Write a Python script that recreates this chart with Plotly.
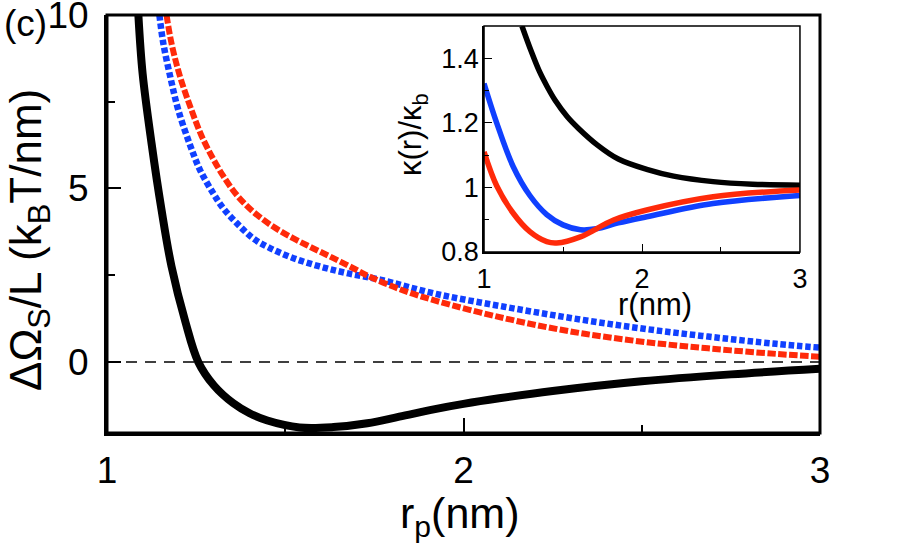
import plotly.graph_objects as go

# ---- main panel data: Delta Omega_s / L vs r_p ----
black_x = [1.088, 1.1, 1.125, 1.153, 1.181, 1.22, 1.256, 1.30, 1.354, 1.40, 1.45, 1.54,
           1.635, 1.73, 1.82, 1.92, 2.0, 2.1, 2.25, 2.5, 2.75, 3.0]
black_y = [10.0, 8.3, 6.3, 4.38, 2.75, 1.15, 0.0, -0.68, -1.19, -1.48, -1.69, -1.89,
           -1.88, -1.77, -1.58, -1.36, -1.21, -1.05, -0.84, -0.56, -0.36, -0.2]

blue_x = [1.147, 1.158, 1.179, 1.2, 1.233, 1.261, 1.298, 1.326, 1.364, 1.41, 1.457,
          1.523, 1.597, 1.672, 1.766, 1.923, 2.114, 2.304, 2.495, 2.686, 2.877, 3.0]
blue_y = [10.0, 9.18, 8.15, 7.26, 6.25, 5.53, 4.86, 4.43, 4.0, 3.56, 3.28,
          2.99, 2.75, 2.56, 2.37, 1.96, 1.59, 1.26, 0.97, 0.73, 0.52, 0.41]

red_x = [1.167, 1.181, 1.205, 1.237, 1.266, 1.298, 1.326, 1.364, 1.41, 1.466, 1.523,
         1.579, 1.635, 1.691, 1.732, 1.82, 1.923, 2.114, 2.304, 2.495, 2.686, 2.877, 3.0]
red_y = [10.0, 9.18, 8.22, 7.26, 6.5, 5.85, 5.36, 4.81, 4.33, 3.90, 3.56,
         3.27, 2.99, 2.70, 2.48, 2.1, 1.76, 1.26, 0.87, 0.59, 0.39, 0.23, 0.15]

# ---- inset data: kappa(r)/kappa_b vs r ----
ins_black_x = [1.24, 1.30, 1.35, 1.40, 1.45, 1.527, 1.60, 1.716, 1.85, 2.03, 2.2, 2.45, 2.7, 3.0]
ins_black_y = [1.5, 1.42, 1.36, 1.312, 1.27, 1.219, 1.182, 1.132, 1.088, 1.056, 1.035, 1.018, 1.01, 1.007]

ins_blue_x = [1.0, 1.08, 1.185, 1.29, 1.397, 1.50, 1.61, 1.71, 1.85, 2.03, 2.45, 3.0]
ins_blue_y = [1.322, 1.2, 1.064, 0.975, 0.916, 0.884, 0.869, 0.872, 0.89, 0.909, 0.95, 0.975]

ins_red_x = [1.0, 1.08, 1.185, 1.29, 1.397, 1.46, 1.61, 1.82, 2.03, 2.45, 3.0]
ins_red_y = [1.11, 1.005, 0.92, 0.863, 0.832, 0.828, 0.847, 0.899, 0.93, 0.971, 0.992]

# ---- ticks ----
main_xticks = [1, 2, 3]
main_xminor = [1.5, 2.5]
main_yticks = [0, 5, 10]
main_yminor = [2.5, 7.5]
ins_xticks = [1, 2, 3]
ins_xminor = [1.5, 2.5]
ins_yticks = [0.8, 1.0, 1.2, 1.4]
ins_yticktext = ["0.8", "1", "1.2", "1.4"]
ins_yminor = [0.9, 1.1, 1.3]

BLUE = "#1040ff"
RED = "#ff2a0a"
FONT = "Liberation Sans, Arial, sans-serif"

fig = go.Figure()

fig.add_trace(go.Scatter(x=black_x, y=black_y, mode="lines",
                         line=dict(color="black", width=8, shape="spline"),
                         xaxis="x", yaxis="y", showlegend=False))
fig.add_trace(go.Scatter(x=blue_x, y=blue_y, mode="lines",
                         line=dict(color=BLUE, width=6.5, shape="spline", dash="5.5px,2.8px"),
                         xaxis="x", yaxis="y", showlegend=False))
fig.add_trace(go.Scatter(x=red_x, y=red_y, mode="lines",
                         line=dict(color=RED, width=6, shape="spline", dash="8.5px,2.5px"),
                         xaxis="x", yaxis="y", showlegend=False))

fig.add_trace(go.Scatter(x=ins_black_x, y=ins_black_y, mode="lines",
                         line=dict(color="black", width=5.5, shape="spline"),
                         xaxis="x2", yaxis="y2", showlegend=False))
fig.add_trace(go.Scatter(x=ins_blue_x, y=ins_blue_y, mode="lines",
                         line=dict(color=BLUE, width=5.5, shape="spline"),
                         xaxis="x2", yaxis="y2", showlegend=False))
fig.add_trace(go.Scatter(x=ins_red_x, y=ins_red_y, mode="lines",
                         line=dict(color=RED, width=5.5, shape="spline"),
                         xaxis="x2", yaxis="y2", showlegend=False))

# reference dashed lines
fig.add_shape(type="line", xref="x domain", yref="y", x0=0, x1=1, y0=0, y1=0,
              line=dict(color="black", width=1.5, dash="11px,8px"), layer="below")
fig.add_shape(type="line", xref="x2 domain", yref="y2", x0=0, x1=1, y0=1, y1=1,
              line=dict(color="#333333", width=1.3, dash="9px,5px"), layer="below")

# frames
fig.add_shape(type="rect", xref="x domain", yref="y domain", x0=0, x1=1, y0=0, y1=1,
              line=dict(color="black", width=3), layer="above")
fig.add_shape(type="rect", xref="x2 domain", yref="y2 domain", x0=0, x1=1, y0=0, y1=1,
              line=dict(color="black", width=1.5), layer="above")

# texts
fig.add_annotation(text="(c)", xref="paper", yref="paper", x=-0.147, y=0.980,
                   xanchor="left", yanchor="middle", showarrow=False,
                   font=dict(size=37, color="black", family=FONT))
fig.add_annotation(text="ΔΩ<sub>S</sub>/L (k<sub>B</sub>T/nm)", xref="paper", yref="paper",
                   x=-0.1094, y=0.4617, xanchor="center", yanchor="middle", textangle=-90,
                   showarrow=False, font=dict(size=44, color="black", family=FONT))
fig.add_annotation(text="r<sub>p</sub>(nm)", xref="paper", yref="paper",
                   x=0.494, y=-0.128, xanchor="center", yanchor="top",
                   showarrow=False, font=dict(size=43, color="black", family=FONT))
fig.add_annotation(text="r(nm)", xref="paper", yref="paper",
                   x=0.7686, y=0.3086, xanchor="center", yanchor="middle",
                   showarrow=False, font=dict(size=31, color="black", family=FONT))
fig.add_annotation(text="κ(r)/κ<sub>b</sub>", xref="paper", yref="paper",
                   x=0.4292, y=0.7129, xanchor="center", yanchor="middle", textangle=-90,
                   showarrow=False, font=dict(size=31, color="black", family=FONT))

fig.update_layout(
    template="none",
    width=913, height=550, autosize=False,
    margin=dict(l=107, r=93, t=15, b=117, autoexpand=False),
    paper_bgcolor="white", plot_bgcolor="white",
    font=dict(family=FONT, color="black"),
    xaxis=dict(domain=[0, 1], range=[1, 3], tickvals=main_xticks, automargin=False,
               ticks="inside", ticklen=15, tickwidth=2, tickcolor="black",
               minor=dict(tickvals=main_xminor, ticks="inside", ticklen=8, tickwidth=2, tickcolor="black"),
               showline=True, linewidth=3, linecolor="black", mirror=False,
               showgrid=False, zeroline=False, tickfont=dict(size=37),
               ticklabelstandoff=3, ticklabeloverflow="allow"),
    yaxis=dict(domain=[0, 1], range=[-2.05, 10.0], tickvals=main_yticks, automargin=False,
               ticks="inside", ticklen=14, tickwidth=2, tickcolor="black",
               minor=dict(tickvals=main_yminor, ticks="inside", ticklen=8, tickwidth=2, tickcolor="black"),
               showline=True, linewidth=3, linecolor="black", mirror=False,
               showgrid=False, zeroline=False, tickfont=dict(size=37),
               ticklabelstandoff=8, ticklabeloverflow="allow"),
    xaxis2=dict(domain=[0.5288, 0.9719], anchor="y2", range=[1, 3], tickvals=ins_xticks, automargin=False,
                ticks="inside", ticklen=8, tickwidth=1.3, tickcolor="black",
                minor=dict(tickvals=ins_xminor, ticks="inside", ticklen=5, tickwidth=1.3, tickcolor="black"),
                showline=True, linewidth=1.5, linecolor="black", mirror=False,
                showgrid=False, zeroline=False, tickfont=dict(size=27),
                ticklabelstandoff=2, ticklabeloverflow="allow"),
    yaxis2=dict(domain=[0.433, 0.9737], anchor="x2", range=[0.8, 1.5], tickvals=ins_yticks, automargin=False,
                ticktext=ins_yticktext,
                ticks="inside", ticklen=8, tickwidth=1.3, tickcolor="black",
                minor=dict(tickvals=ins_yminor, ticks="inside", ticklen=5, tickwidth=1.3, tickcolor="black"),
                showline=True, linewidth=1.5, linecolor="black", mirror=False,
                showgrid=False, zeroline=False, tickfont=dict(size=27),
                ticklabelstandoff=-2, ticklabeloverflow="allow"),
)

fig.write_html("out.html", config={"displayModeBar": False},
               post_script="document.body.style.margin='0';document.body.style.overflow='hidden';")
